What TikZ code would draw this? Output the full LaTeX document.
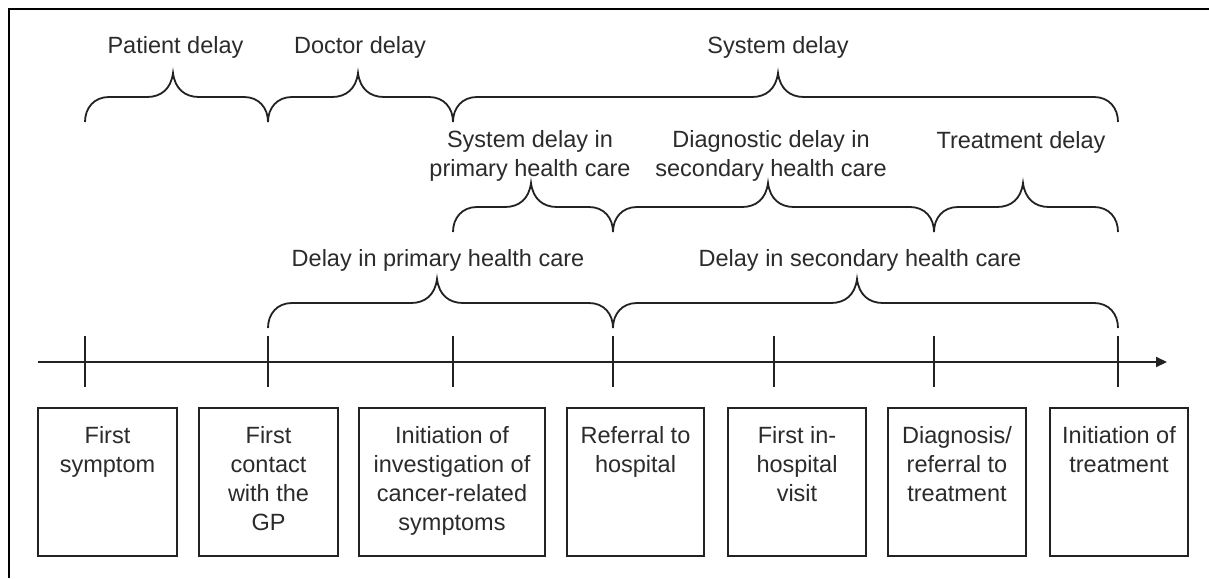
\documentclass[tikz,border=0pt]{standalone}
\usepackage{fontspec}
\setmainfont{Liberation Sans}
\usetikzlibrary{arrows.meta,calc}
\definecolor{ink}{HTML}{222222}
\definecolor{txt}{HTML}{2B2B2B}
\newcommand\brc[4]{% x0, x1, xtip, yend
  \draw[bracestyle] (#1,#4) .. controls (#1,#4-14) and (#1+9,#4-25) .. (#1+24,#4-25)
   -- (#3-26,#4-25) .. controls (#3-12,#4-25) and (#3-2,#4-33) .. (#3,#4-49)
   .. controls (#3+2,#4-33) and (#3+12,#4-25) .. (#3+26,#4-25)
   -- (#2-24,#4-25) .. controls (#2-9,#4-25) and (#2,#4-14) .. (#2,#4);}
\begin{document}
\begin{tikzpicture}[x=1pt,y=-1pt,
  every node/.style={text=txt,font=\fontsize{23.5}{29}\selectfont},
  bracestyle/.style={draw=ink,line width=1.8pt},
  tickstyle/.style={draw=ink,line width=2pt},
  axisstyle/.style={draw=ink,line width=2pt,-{Triangle[length=11pt,width=10pt]}},
  boxstyle/.style={draw=ink,line width=1.6pt,minimum height=148pt,inner sep=0pt,anchor=north},
  boxtext/.style={align=center,inner sep=0pt,anchor=north},
  lab/.style={inner sep=0pt,anchor=base},
  lab2/.style={align=center,inner sep=0pt,anchor=north},
  borderstyle/.style={draw=black,line width=2pt}]
\useasboundingbox (0,0) rectangle (1209,578);
\fill[white] (0,0) rectangle (1209,578);
\draw[borderstyle] (9,578) -- (9,9) -- (1209,9);

% timeline
\coordinate (axs) at (38,362);
\coordinate (axe) at (1167,362);
\draw[axisstyle] (axs) -- (axe);
\foreach \n/\x in {1/85,2/268,3/453,4/613,5/774,6/934,7/1118}{
  \coordinate (t\n) at (\x,362);
  \draw[tickstyle] ($(t\n)+(0,-26)$) -- ($(t\n)+(0,25)$);
}

% boxes
\node[boxstyle,minimum width=139pt] (b1) at (107.5,407) {};
\node[boxstyle,minimum width=139pt] (b2) at (268.5,407) {};
\node[boxstyle,minimum width=186pt] (b3) at (452,407) {};
\node[boxstyle,minimum width=137pt] (b4) at (635.5,407) {};
\node[boxstyle,minimum width=138pt] (b5) at (797,407) {};
\node[boxstyle,minimum width=138pt] (b6) at (957,407) {};
\node[boxstyle,minimum width=138pt] (b7) at (1119,407) {};
\node[boxtext] (x1) at ($(b1.north)+(0,19)$) {First\\symptom};
\node[boxtext] (x2) at ($(b2.north)+(0,19)$) {First\\contact\\with the\\GP};
\node[boxtext] (x3) at ($(b3.north)+(0,19)$) {Initiation of\\investigation of\\cancer-related\\symptoms};
\node[boxtext] (x4) at ($(b4.north)+(0,19)$) {Referral to\\hospital};
\node[boxtext] (x5) at ($(b5.north)+(0,19)$) {First in-\\hospital\\visit};
\node[boxtext] (x6) at ($(b6.north)+(0,19)$) {Diagnosis/\\referral to\\treatment};
\node[boxtext] (x7) at ($(b7.north)+(0,19)$) {Initiation of\\treatment};

% braces, top level
\brc{85}{268}{173}{122}
\brc{268}{453}{358}{122}
\brc{453}{1118}{778}{122}
\node[lab] (lp) at (175.5,53) {Patient delay};
\node[lab] (ld) at (360,53) {Doctor delay};
\node[lab] (ls) at (778,53) {System delay};

% second level
\brc{453}{613}{531}{232}
\brc{613}{934}{768}{232}
\brc{934}{1118}{1023}{232}
\node[lab2] (lsp) at (530,130) {System delay in\\primary health care};
\node[lab2] (lds) at (771,130) {Diagnostic delay in\\secondary health care};
\node[lab] (lt) at (1021,148) {Treatment delay};

% third level
\brc{268}{613}{437}{328}
\brc{613}{1118}{857}{328}
\node[lab] (lpp) at (438,266) {Delay in primary health care};
\node[lab] (lss) at (860,266) {Delay in secondary health care};
\end{tikzpicture}
\end{document}
